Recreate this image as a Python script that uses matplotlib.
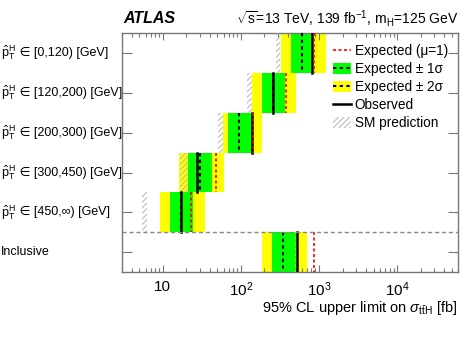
import matplotlib
matplotlib.use("Agg")
import matplotlib.pyplot as plt
from matplotlib.patches import Patch
from matplotlib.lines import Line2D
from matplotlib.transforms import blended_transform_factory

plt.rcParams['font.family'] = ['Liberation Sans', 'DejaVu Sans']
plt.rcParams['mathtext.fontset'] = 'custom'
plt.rcParams['mathtext.rm'] = 'Liberation Sans'
plt.rcParams['mathtext.it'] = 'Liberation Sans:italic'
plt.rcParams['mathtext.bf'] = 'Liberation Sans:bold'
plt.rcParams['mathtext.sf'] = 'Liberation Sans'
plt.rcParams['hatch.linewidth'] = 0.8

# ---- data (fb) ----
bins = ["[0,120)", "[120,200)", "[200,300)", "[300,450)", "[450,\u221e)", "Inclusive"]
expected = [606, 257, 94, 29.8, 17.0, 345]
minus1 = [437, 186, 68, 21, 12.3, 250]
plus1 = [806, 366, 138, 42.5, 24.2, 507]
minus2 = [326, 138, 58.7, 16, 9.2, 186]
plus2 = [1230, 510, 186, 60.5, 34.5, 702]
observed = [820, 257, 138, 27.3, 17.0, 522]
expected_mu1 = [875, 380, 143, 47.8, 22.6, 863]
sm_lo = [279, 119, 50.7, 16.5, 5.33, 492]
sm_hi = [316, 138, 58.7, 21.0, 6.18, 540]
xticks = [10, 100, 1000, 10000]
xticklabels = ["10", r"$10^{2}$", r"$10^{3}$", r"$10^{4}$"]

fig = plt.figure(figsize=(4.73, 3.41), dpi=100)
ax = fig.add_axes([0.258, 0.202, 0.710, 0.701])

green = '#00ff00'
yellow = '#ffff00'
half = 0.5
for i in range(len(bins)):
    y0, y1 = i - half, i + half
    ax.fill_betweenx([y0, y1], minus2[i], plus2[i], color=yellow, lw=0, zorder=1)
    ax.fill_betweenx([y0, y1], minus1[i], plus1[i], color=green, lw=0, zorder=2)
    ax.fill_betweenx([y0, y1], sm_lo[i], sm_hi[i], facecolor='none',
                     edgecolor='#bbbbbb', hatch='//////', lw=0, zorder=3)
    ax.plot([observed[i]] * 2, [y0, y1], color='black', lw=1.8, zorder=4)
    ax.plot([expected[i]] * 2, [y0, y1], color='black', lw=1.5, ls=(0, (1.6, 1.6)), zorder=5)
    ax.plot([expected_mu1[i]] * 2, [y0, y1], color='red', lw=1.2, ls=(0, (1.8, 1.5)), zorder=5)

ax.axhline(4.5, color='#888888', lw=1, ls=(0, (3, 2)), zorder=6)

ax.set_xscale('log')
ax.set_xlim(3, 6e4)
ax.set_ylim(len(bins) - 0.5, -0.5)
ax.set_xticks(xticks)
ax.set_xticklabels(xticklabels, fontsize=11)
ax.set_yticks(range(len(bins)))
ax.set_yticklabels([])

spc = '#777777'
for s in ax.spines.values():
    s.set_color(spc)
    s.set_linewidth(1.0)
ax.tick_params(axis='x', which='major', direction='in', top=True, length=5, width=0.8, color=spc, pad=6)
ax.tick_params(axis='x', which='minor', direction='in', top=True, length=2.6, width=0.8, color=spc)
ax.tick_params(axis='y', which='major', direction='in', right=True, left=True, length=7.2, width=0.8, color=spc)
ax.tick_params(axis='y', which='minor', left=False, right=False)

trans = blended_transform_factory(fig.transFigure, ax.transData)
for i, b in enumerate(bins):
    if b == "Inclusive":
        fig.text(0.002, i, b, transform=trans, ha='left', va='center', fontsize=9)
    else:
        t1 = fig.text(0.002, i, r"$\hat{\mathrm{p}}_{\mathrm{T}}^{\mathrm{H}}$", transform=trans,
                      ha='left', va='center', fontsize=9)
        ax.annotate(" \u2208 " + b + " [GeV]", xy=(1.0, 0.5), xycoords=t1,
                    ha='left', va='center', fontsize=9,
                    family=['Liberation Sans', 'DejaVu Sans'], annotation_clip=False)

ax.set_xlabel(r"95% CL upper limit on $\sigma_{\mathrm{t\bar{t}H}}$ [fb]", fontsize=10.5,
              ha='right', x=1.0, labelpad=0)

fig.text(0.260, 0.945, "ATLAS", fontsize=11.5, fontweight='bold', style='italic',
         ha='left', va='center')
fig.text(0.968, 0.945, r"$\sqrt{\mathrm{s}}$=13 TeV, 139 fb$^{-1}$, m$_{\mathrm{H}}$=125 GeV",
         fontsize=10, ha='right', va='center')

handles = [
    Line2D([], [], color='red', lw=1.2, ls=(0, (1.8, 1.5))),
    (Patch(facecolor=green, lw=0), Line2D([], [], color='black', lw=1.5, ls=(0, (1.6, 1.6)))),
    (Patch(facecolor=yellow, lw=0), Line2D([], [], color='black', lw=1.5, ls=(0, (1.6, 1.6)))),
    Line2D([], [], color='black', lw=1.8),
    Patch(facecolor='none', edgecolor='#bbbbbb', hatch='//////', lw=0),
]
labels = ["Expected (\u03bc=1)", "Expected \u00b1 1\u03c3", "Expected \u00b1 2\u03c3", "Observed", "SM prediction"]
ax.legend(handles, labels, loc='upper left', bbox_to_anchor=(0.628, 0.955), frameon=False,
          fontsize=9.8, handlelength=1.3, handleheight=0.9, handletextpad=0.3,
          labelspacing=0.3, borderaxespad=0, borderpad=0)

fig.savefig("out.png", dpi=100)
